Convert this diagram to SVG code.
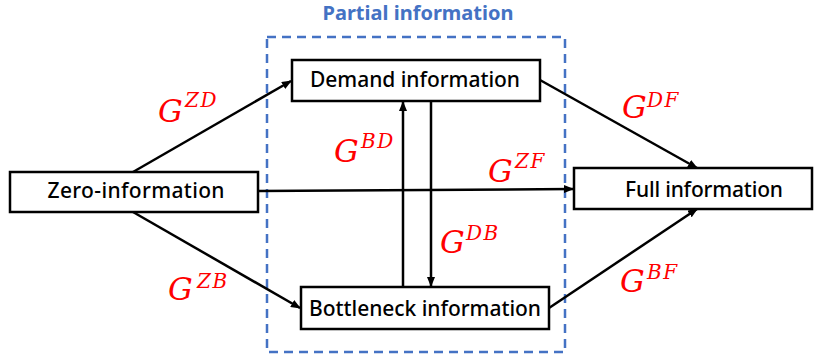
<svg xmlns="http://www.w3.org/2000/svg" width="818" height="359" viewBox="0 0 818 359">
  <style>
    .box { fill: #ffffff; stroke: #000000; stroke-width: 2.5; }
    .lbl { font-family: "Noto Sans", "Open Sans", "Liberation Sans", sans-serif; font-size: 21px; font-weight: 500; fill: #000000; text-anchor: middle; }
    .edge { stroke: #000000; stroke-width: 2.5; fill: none; marker-end: url(#arrow); }
    .g { font-family: "DejaVu Serif", "Liberation Serif", serif; font-style: italic; fill: #ff0000; }
    .gm { font-size: 31px; }
    .gs { font-size: 20px; letter-spacing: 1.5px; }
    .group { fill: none; stroke: #4472c4; stroke-width: 2.5; stroke-dasharray: 9 6; }
    .title { font-family: "Noto Sans", "Open Sans", "Liberation Sans", sans-serif; font-size: 20px; font-weight: 700; fill: #4472c4; text-anchor: middle; }
  </style>
  <defs>
    <marker id="arrow" markerUnits="userSpaceOnUse" markerWidth="10" markerHeight="8" refX="9" refY="4" orient="auto">
      <path d="M0,0 L10,4 L0,8 Z" fill="#000000"/>
    </marker>
  </defs>

  <!-- partial-information grouping -->
  <g id="partial">
    <rect class="group" x="267" y="37" width="298" height="315"/>
    <text class="title" x="418" y="20">Partial information</text>
  </g>

  <!-- connectors -->
  <g id="connectors">
    <line class="edge" x1="133" y1="172" x2="291" y2="81"/>
    <line class="edge" x1="133" y1="212" x2="300" y2="308"/>
    <line class="edge" x1="258" y1="191" x2="573" y2="189"/>
    <line class="edge" x1="540" y1="80" x2="697" y2="168"/>
    <line class="edge" x1="549" y1="308" x2="697" y2="209"/>
    <line class="edge" x1="403" y1="287" x2="403" y2="102"/>
    <line class="edge" x1="431" y1="101" x2="431" y2="286"/>
  </g>

  <!-- nodes -->
  <g id="zero">
    <rect class="box" x="10" y="172" width="248" height="40"/>
    <text class="lbl" x="136" y="198" textLength="177" lengthAdjust="spacing">Zero-information</text>
  </g>
  <g id="demand">
    <rect class="box" x="292" y="60" width="248" height="41"/>
    <text class="lbl" x="415" y="87" textLength="210" lengthAdjust="spacing">Demand information</text>
  </g>
  <g id="bottleneck">
    <rect class="box" x="301" y="287" width="248" height="42"/>
    <text class="lbl" x="425" y="316" textLength="232" lengthAdjust="spacing">Bottleneck information</text>
  </g>
  <g id="full">
    <rect class="box" x="574" y="168" width="238" height="41"/>
    <text class="lbl" x="704" y="197" textLength="158" lengthAdjust="spacing">Full information</text>
  </g>

  <!-- transition labels -->
  <g id="labels">
    <text class="g gm" x="158" y="122">G</text><text class="g gs" x="185" y="107">ZD</text>
    <text class="g gm" x="334" y="162">G</text><text class="g gs" x="361" y="148">BD</text>
    <text class="g gm" x="488" y="182">G</text><text class="g gs" x="515" y="168">ZF</text>
    <text class="g gm" x="440" y="253">G</text><text class="g gs" x="466" y="240">DB</text>
    <text class="g gm" x="622" y="118">G</text><text class="g gs" x="647" y="107">DF</text>
    <text class="g gm" x="168" y="300">G</text><text class="g gs" x="197" y="288">ZB</text>
    <text class="g gm" x="620" y="292">G</text><text class="g gs" x="647" y="279">BF</text>
  </g>
</svg>
